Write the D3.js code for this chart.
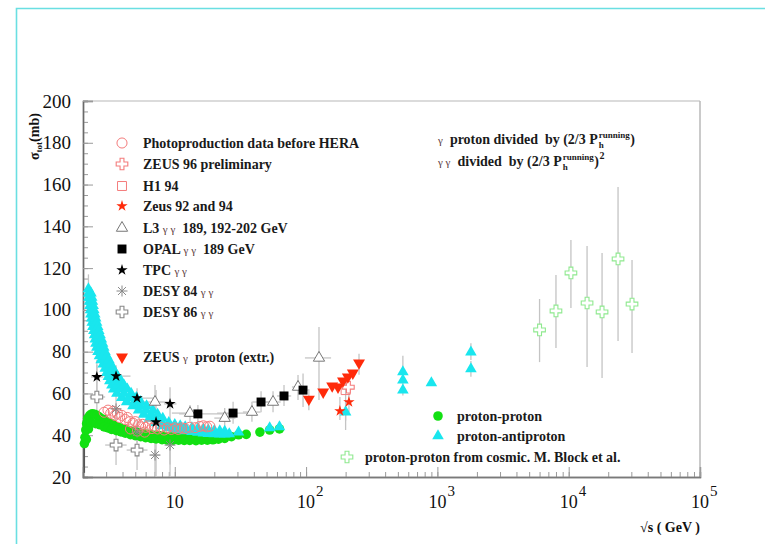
<!DOCTYPE html>
<html>
<head>
<meta charset="utf-8">
<script src="https://cdn.jsdelivr.net/npm/d3@7"></script>
<style>
  html, body { margin: 0; padding: 0; background: #fff; }
  svg { display: block; }
  .serif { font-family: "Liberation Serif", "Times New Roman", serif; }
</style>
</head>
<body>
<svg id="chart" width="765" height="544"></svg>
<script>
// ---- data: [sqrt(s) in GeV, sigma_tot in mb] ----

// proton-proton (dense band)
const ppData = [
  [2.05, 36], [2.07, 39], [2.1, 42.5], [2.13, 45.5], [2.17, 48], [2.25, 49.5], [2.35, 50.3],
  [2.45, 50], [2.55, 49.5], [2.65, 48.8], [2.75, 48], [2.9, 47.5], [3.0, 46.5], [3.15, 45.8],
  [3.3, 45.5], [3.45, 44.6], [3.6, 44], [3.8, 43.6], [4.0, 43], [4.25, 42.6], [4.5, 42.2],
  [4.8, 41.8], [5.1, 41.4], [5.4, 41.2], [5.8, 40.8], [6.2, 40.5], [6.6, 40.2], [7.1, 40],
  [7.6, 39.8], [8.2, 39.6], [8.9, 39.4], [9.6, 39.3], [10.4, 39.1], [11.3, 39.2], [12.2, 39],
  [13.2, 39.1], [14.3, 38.9], [15.5, 39.1], [16.8, 38.9], [18.2, 39.2], [19.8, 39.3],
  [21.5, 39.5], [23.5, 39.8],
  [2.12, 38], [2.2, 43], [2.3, 46], [2.5, 45.5], [2.7, 45], [2.9, 44], [3.1, 43.5], [3.3, 42.8],
  [3.6, 42.2], [3.9, 41.6], [4.2, 41], [4.6, 40.3], [5.0, 39.8], [5.5, 39.3], [6.0, 38.8],
  [6.6, 38.5], [7.2, 38.2], [8.0, 37.9], [8.8, 37.7], [9.7, 37.6], [10.7, 37.6], [11.8, 37.5],
  [13, 37.5], [14.5, 37.4], [16, 37.6], [17.7, 37.6], [19.5, 37.8], [21.5, 38.1], [24, 38.5],
  [27, 39.3], [30.6, 40.2], [35, 40.4], [44.5, 41.5], [52.8, 42.5], [62.7, 43]
];

// proton-antiproton: low-energy band (left edge, middle, right edge, tail) and collider points
const ppbarData = [
  // left edge
  [2.2, 110], [2.21, 108], [2.22, 106], [2.24, 104], [2.26, 102], [2.28, 100], [2.3, 98], [2.33, 96],
  [2.35, 94], [2.38, 92], [2.42, 90], [2.45, 88], [2.48, 86], [2.51, 84], [2.55, 82], [2.6, 80],
  [2.67, 78], [2.75, 76], [2.85, 74], [2.95, 72], [3.04, 70], [3.12, 68], [3.2, 66], [3.32, 64],
  [3.43, 62], [3.62, 60], [3.95, 58], [4.3, 56], [4.8, 54], [5.3, 52], [5.8, 50], [6.4, 48], [7.2, 46],
  // middle
  [2.25, 108], [2.27, 106], [2.3, 104], [2.32, 102], [2.35, 100], [2.38, 98], [2.41, 96], [2.44, 94],
  [2.48, 92], [2.52, 90], [2.57, 88], [2.62, 86], [2.66, 84], [2.71, 82], [2.77, 80], [2.85, 78],
  [2.95, 76], [3.05, 74], [3.16, 72], [3.27, 70], [3.38, 68], [3.53, 66], [3.67, 64], [3.87, 62],
  [4.1, 60], [4.5, 58], [4.9, 56], [5.4, 54], [6.0, 52], [6.6, 50], [7.2, 48], [8.0, 46],
  // right edge
  [2.3, 108], [2.33, 106], [2.36, 104], [2.39, 102], [2.42, 100], [2.46, 98], [2.5, 96], [2.54, 94],
  [2.59, 92], [2.64, 90], [2.7, 88], [2.76, 86], [2.82, 84], [2.88, 82], [2.94, 80], [3.03, 78],
  [3.15, 76], [3.26, 74], [3.38, 72], [3.52, 70], [3.68, 68], [3.9, 66], [4.1, 64], [4.35, 62],
  [4.65, 60], [5.1, 58], [5.5, 56], [6.1, 54], [6.8, 52], [7.4, 50], [8.1, 48], [9.0, 46],
  // tail
  [8, 44.5], [9, 43.6], [10, 43], [11, 42.5], [12, 42.1], [13.5, 41.7], [15, 41.3], [16.5, 41],
  [18, 40.8], [20, 40.6], [22, 40.5], [24, 40.5], [26, 40.6],
  [10, 45], [11, 44.5], [12, 44], [13.5, 43.5], [15, 43.2], [16.5, 42.8], [18, 42.5], [20, 42.2],
  [22, 42], [24, 41.8],
  // collider and ISR points
  [30.6, 41.5], [52.8, 43.5], [62.7, 44],
  [200, 51.1], [546, 70.3], [546, 66.4], [546, 61.6], [900, 65], [1800, 79.8], [1800, 71.7]
];

// proton-proton from cosmic rays (M. Block et al.)
const cosmicData = [
  [6000, 90.4], [8000, 99.5], [10400, 117.7], [13800, 103.3], [17950, 99], [23760, 124.4], [30360, 102.8]
];
const cosmicErr = [
  [6000, 75, 105.2], [8000, 81.8, 116.7], [10400, 100.9, 133.4], [13800, 72.7, 130.6],
  [17950, 67.4, 127.2], [23760, 85.1, 158.8], [30360, 79.4, 123.9]
];

// photoproduction data before HERA
const photoData = [
  [2.9, 51], [3.1, 52], [3.25, 50.5], [3.4, 51.5], [3.5, 49.5], [3.65, 50.5], [3.8, 48.5],
  [3.95, 49.5], [4.2, 47.5], [4.35, 48.5], [4.55, 46.5], [4.8, 45.8], [5.0, 46.5], [5.3, 45],
  [5.5, 44], [5.7, 45.2], [6.0, 43.8], [6.3, 44.5], [6.7, 43.2], [7.0, 44], [7.4, 43],
  [7.8, 43.8], [8.3, 42.5], [8.8, 43.5], [9.4, 42.8], [10, 43.5], [10.6, 42.8], [11.3, 43.5],
  [12, 43.2], [13, 43.8], [14.3, 43.6], [15.5, 44.2], [16.5, 44.5], [17.5, 44], [18.5, 44.3],
  [4.6, 43], [5.2, 42], [5.9, 41.5]
];
const zeus96Data = [[210, 63]];
const h1Data = [[200, 61.6]];
const h1Err = [[200, 42.5, 67.9]];
const zeus9294Data = [[181, 51.6], [212, 55.9]];
const zeus9294Err = [[181, 47.3, 58.3], [212, 51, 61]];

// ZEUS gamma-proton, extrapolated
const zeusExtrData = [
  [105, 57.3], [135, 60.7], [158, 63.6], [175, 63.1], [191, 66], [208, 67.9], [227, 69.8], [253, 74.6]
];
const zeusExtrErr = [[105, 52, 62], [253, 69, 79]];

// gamma-gamma
const l3Data = [[7.07, 55.9], [13.06, 50.6], [24, 48.2], [38.7, 51.1], [56, 55.9], [86.8, 63.1], [125.4, 77]];
// [x, yLow, yHigh, xLow, xHigh]
const l3Err = [
  [7.07, 47, 64, 5.5, 9], [13.06, 46.5, 54.5, 9.5, 16], [24, 43.5, 53, 20, 29], [38.7, 46.5, 56, 33, 45],
  [56, 51, 61, 49, 64], [86.8, 56.9, 68.8, 78, 96], [125.4, 56.9, 91.8, 98, 155]
];
const opalData = [[15, 50.2], [27.8, 50.6], [45.4, 55.9], [67.9, 58.8], [94.8, 61.6]];
const opalErr = [
  [15, 46, 54.5, 10.8, 27], [27.8, 45.5, 56, 21, 37], [45.4, 51, 61, 39, 53],
  [67.9, 54, 64, 60, 77], [94.8, 53.5, 69.5, 86, 105]
];
const tpcData = [[2.55, 67.9], [3.57, 68.3], [5.16, 57.8], [7.2, 46.3], [9.2, 55]];
const tpcErr = [
  [2.55, 60, 76, 2.3, 2.85], [3.57, 63, 73.5, 2.9, 4.6], [5.16, 53, 62.5, 3.8, 7.1],
  [7.2, 20, 61.6, 6.5, 8.0], [9.2, 20, 63, 8.3, 10.3]
];
const desy84Data = [[3.57, 52.6], [5.16, 41.5], [7.07, 30.5], [9.2, 35.3]];
const desy84Err = [[3.57, 46, 59, 3.3, 3.9], [5.16, 36, 47, 4.8, 5.6], [7.07, 22, 39, 6.5, 7.7], [9.2, 26, 45, 8.5, 10]];
const desy86Data = [[2.55, 58.3], [3.57, 35.3], [5.16, 32.9]];
const desy86Err = [[2.55, 47.3, 73.6, 2.25, 2.95], [3.57, 25.7, 45, 2.95, 4.3], [5.16, 23.4, 42.5, 4.3, 6.2]];
const ppbarErr = [[2.2, 105, 117], [546, 59, 78], [1800, 76, 84], [1800, 68, 75.5], [200, 47, 56]];
const ppErr = [[2.05, 22, 40]];

// axis ticks
const yMajorTicks = [20, 40, 60, 80, 100, 120, 140, 160, 180, 200];
const xDecadeTicks = [10, 100, 1000, 10000, 100000];
const xDecadeExp = ["", "2", "3", "4", "5"];

// ---- colours ----
const C = {
  pp: "#12e012", ppbar: "#19e6ee", cosmic: "#8fe98f", pink: "#f47c7c",
  red: "#ff2a0a", gray: "#8a8a8a", err: "#c4c4c4", black: "#000"
};

// ---- layout ----
const svg = d3.select("#chart");
const plot = { left: 83, right: 700, top: 101, bottom: 477 };
const x = d3.scaleLog().domain([2, 1e5]).range([plot.left, plot.right]);
const y = d3.scaleLinear().domain([20, 200]).range([plot.bottom, plot.top]);

// outer cyan frame
svg.append("path")
  .attr("d", `M16.5,544 L16.5,8.5 L765,8.5`)
  .attr("fill", "none").attr("stroke", "#6adfe2").attr("stroke-width", 1.6);

// plot frame: top/right light, left/bottom darker
svg.append("line").attr("x1", plot.left).attr("x2", plot.right).attr("y1", plot.top).attr("y2", plot.top)
  .attr("stroke", "#cfcfcf").attr("stroke-width", 1.5);
svg.append("line").attr("x1", plot.right).attr("x2", plot.right).attr("y1", plot.top).attr("y2", plot.bottom)
  .attr("stroke", "#b8b8b8").attr("stroke-width", 1.5);

// y axis (ticks pointing into the plot)
const yMinor = d3.range(20, 201, 5);
const yAxisMinor = d3.axisLeft(y).tickValues(yMinor).tickSize(-5).tickFormat("");
const yAxisMajor = d3.axisLeft(y).tickValues(yMajorTicks).tickSize(-10).tickFormat("");
[yAxisMinor, yAxisMajor].forEach(ax => {
  const g = svg.append("g").attr("transform", `translate(${plot.left},0)`).call(ax);
  g.select(".domain").attr("stroke", "#6a6a6a").attr("stroke-width", 1.4);
  g.selectAll(".tick line").attr("stroke", "#9a9a9a").attr("stroke-width", 1);
});
svg.append("g").selectAll("text").data(yMajorTicks).join("text")
  .attr("class", "serif")
  .attr("x", 71).attr("y", d => y(d) + 6.5)
  .attr("text-anchor", "end").attr("font-size", 19).attr("fill", "#111")
  .text(d => d);

// x axis (log, ticks pointing into the plot)
const xMinor = [];
for (let e = 0; e <= 4; e++) for (let m = 1; m <= 9; m++) {
  const v = m * Math.pow(10, e);
  if (v >= 2 && v <= 1e5) xMinor.push(v);
}
const xAxisMinor = d3.axisBottom(x).tickValues(xMinor).tickSize(-5).tickFormat("");
const xAxisMajor = d3.axisBottom(x).tickValues(xDecadeTicks).tickSize(-10).tickFormat("");
[xAxisMinor, xAxisMajor].forEach(ax => {
  const g = svg.append("g").attr("transform", `translate(0,${plot.bottom})`).call(ax);
  g.select(".domain").attr("stroke", "#7a7a7a").attr("stroke-width", 1.4);
  g.selectAll(".tick line").attr("stroke", "#9a9a9a").attr("stroke-width", 1);
});
const xl = svg.append("g").selectAll("g").data(xDecadeTicks).join("g")
  .attr("transform", d => `translate(${x(d)},508)`);
xl.append("text").attr("class", "serif").attr("text-anchor", "middle")
  .attr("font-size", 18).attr("fill", "#111").text("10");
xl.append("text").attr("class", "serif").attr("x", 10).attr("y", -12)
  .attr("font-size", 15).attr("fill", "#111").text((d, i) => xDecadeExp[i]);

// axis titles
const yt = svg.append("text").attr("class", "serif")
  .attr("transform", "translate(39,160) rotate(-90)")
  .attr("font-size", 14).attr("font-weight", "bold").attr("fill", "#111");
yt.append("tspan").text("σ");
yt.append("tspan").attr("font-size", 9).attr("dy", 3).text("tot");
yt.append("tspan").attr("dy", -3).text("(mb)");

svg.append("text").attr("class", "serif").attr("x", 640).attr("y", 532)
  .attr("font-size", 14).attr("font-weight", "bold").attr("fill", "#111")
  .text("√s ( GeV )");

// ---- marker helpers ----
const asteriskPath = r => {
  const k = r * 0.72;
  return `M${-r},0L${r},0M0,${-r}L0,${r}M${-k},${-k}L${k},${k}M${-k},${k}L${k},${-k}`;
};
function markerPath(kind, s = 1) {
  switch (kind) {
    case "circle": return d3.symbol(d3.symbolCircle, 72 * s)();
    case "ocircle": return d3.symbol(d3.symbolCircle, 80 * s)();
    case "tri": return d3.symbol(d3.symbolTriangle, 58 * s)();
    case "otri": return d3.symbol(d3.symbolTriangle, 55 * s)();
    case "dtri": return d3.symbol(d3.symbolTriangle, 62 * s)();
    case "square": return d3.symbol(d3.symbolSquare, 80 * s)();
    case "osquare": return d3.symbol(d3.symbolSquare, 80 * s)();
    case "star": return d3.symbol(d3.symbolStar, 40 * s)();
    case "cross": return d3.symbol(d3.symbolCross, 75 * s)();
    case "asterisk": return asteriskPath(5.5 * Math.sqrt(s));
  }
}
const styles = {
  pp: { kind: "circle", fill: C.pp, stroke: "none" },
  ppbar: { kind: "tri", fill: C.ppbar, stroke: "none" },
  cosmic: { kind: "cross", fill: "#fff", stroke: C.cosmic, sw: 1.1 },
  photo: { kind: "ocircle", fill: "none", stroke: C.pink, sw: 1 },
  zeus96: { kind: "cross", fill: "#fff", stroke: C.pink, sw: 1.1 },
  h1: { kind: "osquare", fill: "none", stroke: C.pink, sw: 1 },
  zeus9294: { kind: "star", fill: C.red, stroke: "none" },
  l3: { kind: "otri", fill: "#fff", stroke: "#777", sw: 1 },
  opal: { kind: "square", fill: C.black, stroke: "none" },
  tpc: { kind: "star", fill: C.black, stroke: "none" },
  desy84: { kind: "asterisk", fill: "none", stroke: "#888", sw: 1 },
  desy86: { kind: "cross", fill: "#fff", stroke: "#888", sw: 1.1 },
  zeusExtr: { kind: "dtri", fill: C.red, stroke: "none" }
};
function drawMarkers(data, st) {
  const rot = st.kind === "dtri" ? " rotate(180)" : "";
  svg.append("g").selectAll("path").data(data).join("path")
    .attr("transform", d => `translate(${x(d[0])},${y(d[1])})${rot}`)
    .attr("d", markerPath(st.kind))
    .attr("fill", st.fill).attr("stroke", st.stroke).attr("stroke-width", st.sw || 0);
}
function drawErrors(errs, color = C.err) {
  const g = svg.append("g").attr("stroke", color).attr("stroke-width", 1.3).attr("fill", "none");
  errs.forEach(e => {
    g.append("line").attr("x1", x(e[0])).attr("x2", x(e[0])).attr("y1", y(e[1])).attr("y2", y(e[2]));
  });
}
// vertical and horizontal bars; the horizontal one crosses the marker centre
function drawXErrors(errs, data) {
  const g = svg.append("g").attr("stroke", C.err).attr("stroke-width", 1.3);
  errs.forEach((e, i) => {
    const yc = y(data[i][1]);
    g.append("line").attr("x1", x(e[0])).attr("x2", x(e[0])).attr("y1", y(e[1])).attr("y2", y(e[2]));
    g.append("line").attr("x1", x(e[3])).attr("x2", x(e[4])).attr("y1", yc).attr("y2", yc);
  });
}

// ---- error bars ----
drawErrors(cosmicErr);
drawErrors(ppbarErr);
drawErrors(h1Err);
drawErrors(zeus9294Err);
drawErrors(zeusExtrErr);
drawErrors(ppErr, "#555");
drawXErrors(l3Err, l3Data);
drawXErrors(opalErr, opalData);
drawXErrors(tpcErr, tpcData);
drawXErrors(desy84Err, desy84Data);
drawXErrors(desy86Err, desy86Data);

// ---- markers ----
drawMarkers(ppData, styles.pp);
drawMarkers(ppbarData, styles.ppbar);
drawMarkers(photoData, styles.photo);
drawMarkers(desy84Data, styles.desy84);
drawMarkers(desy86Data, styles.desy86);
drawMarkers(l3Data, styles.l3);
drawMarkers(opalData, styles.opal);
drawMarkers(tpcData, styles.tpc);
drawMarkers(h1Data, styles.h1);
drawMarkers(zeus96Data, styles.zeus96);
drawMarkers(zeusExtrData, styles.zeusExtr);
drawMarkers(zeus9294Data, styles.zeus9294);
drawMarkers(cosmicData, styles.cosmic);

// ---- legends ----
const gam = "γ";
const legendLeft = [
  { st: "photo", y: 143, parts: [["Photoproduction data before HERA"]] },
  { st: "zeus96", y: 164, parts: [["ZEUS 96 preliminary"]] },
  { st: "h1", y: 186, parts: [["H1 94"]] },
  { st: "zeus9294", y: 206, parts: [["Zeus 92 and 94"]] },
  { st: "l3", y: 228, parts: [["L3 "], [gam + " " + gam, 1], ["  189, 192-202 GeV"]] },
  { st: "opal", y: 249, parts: [["OPAL "], [gam + " " + gam, 1], ["  189 GeV"]] },
  { st: "tpc", y: 270, parts: [["TPC "], [gam + " " + gam, 1]] },
  { st: "desy84", y: 291, parts: [["DESY 84 "], [gam + " " + gam, 1]] },
  { st: "desy86", y: 312, parts: [["DESY 86 "], [gam + " " + gam, 1]] },
  { st: "zeusExtr", y: 357, parts: [["ZEUS "], [gam, 1], ["  proton (extr.)"]] }
];
const legendBottom = [
  { st: "pp", x: 438, y: 416, tx: 457, parts: [["proton-proton"]] },
  { st: "ppbar", x: 438, y: 436, tx: 457, parts: [["proton-antiproton"]] },
  { st: "cosmic", x: 347, y: 457, tx: 365, parts: [["proton-proton from cosmic. M. Block et al."]] }
];
function legendRow(item, sx, tx) {
  const st = styles[item.st];
  const rot = st.kind === "dtri" ? " rotate(180)" : "";
  svg.append("path")
    .attr("transform", `translate(${sx},${item.y})${rot}`)
    .attr("d", markerPath(st.kind))
    .attr("fill", st.fill).attr("stroke", st.stroke).attr("stroke-width", st.sw || 0);
  const t = svg.append("text").attr("class", "serif").attr("x", tx).attr("y", item.y + 5)
    .attr("font-size", 14).attr("font-weight", "bold").attr("fill", "#1a1a1a")
    .style("white-space", "pre");
  item.parts.forEach(p => {
    const ts = t.append("tspan").text(p[0]);
    if (p[1]) ts.attr("font-size", 11).attr("font-weight", "normal").attr("fill", "#5a3a3a");
  });
}
legendLeft.forEach(it => legendRow(it, 122, 143));
legendBottom.forEach(it => legendRow(it, it.x, it.tx));

// running-coupling notes (P_h^running with stacked sub/superscript)
function note(yBase, lead, body, tail, tailSup) {
  const g = svg.append("g");
  const t = g.append("text").attr("class", "serif").attr("x", 438).attr("y", yBase)
    .attr("font-size", 14).attr("font-weight", "bold").attr("fill", "#1a1a1a")
    .style("white-space", "pre");
  t.append("tspan").attr("font-size", 11).attr("font-weight", "normal").attr("fill", "#5a3a3a").text(lead);
  t.append("tspan").text(body);
  const endX = 438 + t.node().getComputedTextLength();
  const sup = g.append("text").attr("class", "serif").attr("x", endX + 1).attr("y", yBase - 6)
    .attr("font-size", 9).attr("font-weight", "bold").attr("fill", "#1a1a1a").text("running");
  g.append("text").attr("class", "serif").attr("x", endX + 1).attr("y", yBase + 4)
    .attr("font-size", 9).attr("font-weight", "bold").attr("fill", "#1a1a1a").text("h");
  const supW = sup.node().getComputedTextLength();
  const tt = g.append("text").attr("class", "serif").attr("x", endX + supW + 1.5).attr("y", yBase)
    .attr("font-size", 14).attr("font-weight", "bold").attr("fill", "#1a1a1a").text(tail);
  if (tailSup) {
    const w = tt.node().getComputedTextLength();
    g.append("text").attr("class", "serif").attr("x", endX + supW + 2 + w).attr("y", yBase - 7)
      .attr("font-size", 10).attr("font-weight", "bold").attr("fill", "#1a1a1a").text(tailSup);
  }
}
note(144, gam, "  proton divided  by (2/3 P", ")", null);
note(166, gam + " " + gam, "  divided  by (2/3 P", ")", "2");
</script>
</body>
</html>
